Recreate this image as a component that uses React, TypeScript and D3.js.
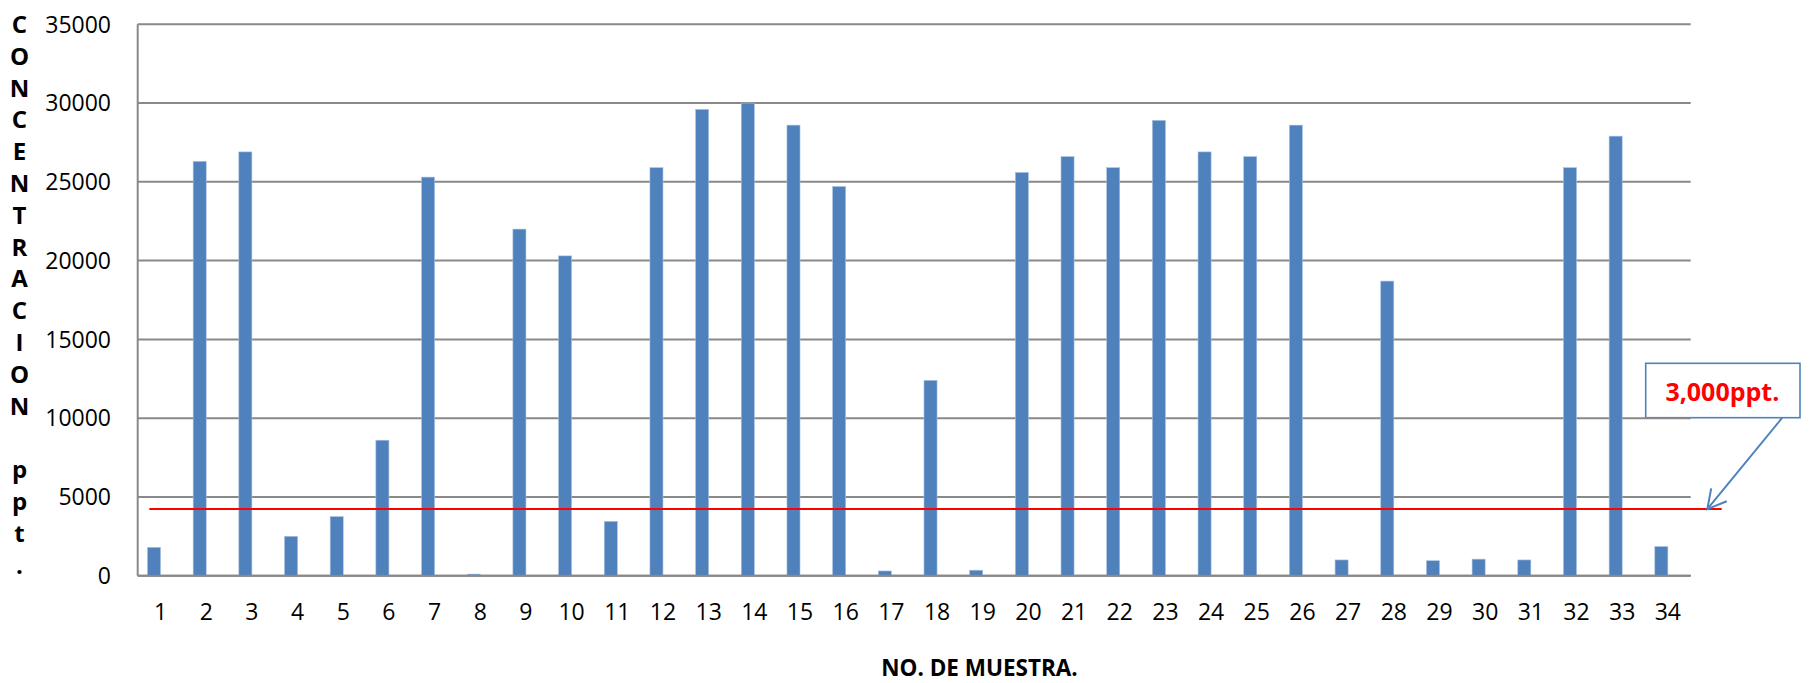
import React from "react";
import * as d3 from "d3";

// Sample numbers along the x axis
const muestras: string[] = Array.from({ length: 34 }, (_, i) => String(i + 1));

// Concentration per sample (ppt)
const concentracion: number[] = [
  1800, 26300, 26900, 2500, 3750, 8600, 25300, 100, 22000, 20300,
  3450, 25900, 29600, 30000, 28600, 24700, 300, 12400, 350, 25600,
  26600, 25900, 28900, 26900, 26600, 28600, 1000, 18700, 950, 1050,
  1000, 25900, 27900, 1850,
];

// Value-axis ticks
const yTicks: number[] = [0, 5000, 10000, 15000, 20000, 25000, 30000, 35000];

// Series slots per category (second slot is empty, leaving the bar off-centre)
const seriesSlots: string[] = ["concentracion", "vacia"];

// Level of the red reference line
const limitLineLevel = 4230;
const calloutText = "3,000ppt.";

const yTitle = "CONCENTRACION ppt.";
const xTitle = "NO. DE MUESTRA.";

const W = 1810;
const H = 683;
const plot = { left: 137.7, right: 1690.7, top: 24.3, bottom: 575.7 };

const FONT = "'Open Sans', 'Liberation Sans', sans-serif";
const GRID = "#898989";
const BAR = "#4F81BD";

export default function App() {
  const x = d3
    .scaleBand<string>()
    .domain(muestras)
    .range([plot.left, plot.right])
    .paddingInner(0)
    .paddingOuter(0);

  const xs = d3
    .scaleBand<string>()
    .domain(seriesSlots)
    .range([0, x.bandwidth()])
    .paddingInner(0)
    .paddingOuter(0.75);

  const y = d3.scaleLinear().domain([0, 35000]).range([plot.bottom, plot.top]);

  const yLimit = y(limitLineLevel);

  // callout box and pointer
  const box = { x0: 1645.7, x1: 1800, y0: 363.3, y1: 417.7 };
  const pointerStart: [number, number] = [1782.3, box.y1];
  const tip: [number, number] = [1707.3, yLimit];
  const ang = Math.atan2(pointerStart[1] - tip[1], pointerStart[0] - tip[0]);
  const headLen = 21;
  const headSpread = 0.5;
  const h1: [number, number] = [
    tip[0] + headLen * Math.cos(ang - headSpread),
    tip[1] + headLen * Math.sin(ang - headSpread),
  ];
  const h2: [number, number] = [
    tip[0] + headLen * Math.cos(ang + headSpread),
    tip[1] + headLen * Math.sin(ang + headSpread),
  ];

  const titleChars = yTitle.split("");
  const lineStep = 31.8;

  return (
    <svg
      width={W}
      height={H}
      style={{ position: "absolute", left: 0, top: 0, background: "#fff" }}
      fontFamily={FONT}
    >
      <rect x={0} y={0} width={W} height={H} fill="#fff" />

      {/* callout box (drawn under the grid) */}
      <rect
        x={box.x0}
        y={box.y0}
        width={box.x1 - box.x0}
        height={box.y1 - box.y0}
        fill="none"
        stroke={BAR}
        strokeWidth={1.6}
      />
      <text
        x={(box.x0 + box.x1) / 2 - 0.5}
        y={401}
        textAnchor="middle"
        fontWeight="bold"
        fontSize={25}
        fill="#FF0000"
      >
        {calloutText}
      </text>

      {/* gridlines */}
      {yTicks.map((t) => (
        <line
          key={`g${t}`}
          x1={plot.left}
          x2={plot.right}
          y1={y(t)}
          y2={y(t)}
          stroke={GRID}
          strokeWidth={2}
        />
      ))}
      {/* value axis line */}
      <line
        x1={plot.left}
        x2={plot.left}
        y1={plot.top}
        y2={plot.bottom}
        stroke={GRID}
        strokeWidth={2}
      />

      {/* bars */}
      {concentracion.map((v, i) => {
        const bx = (x(muestras[i]) as number) + (xs("concentracion") as number);
        return (
          <rect
            key={`b${i}`}
            x={bx}
            y={y(v)}
            width={xs.bandwidth()}
            height={plot.bottom - y(v)}
            fill={BAR}
            stroke="#a9c1e0"
            strokeWidth={0.6}
          />
        );
      })}

      {/* category axis line */}
      <line
        x1={plot.left}
        x2={plot.right}
        y1={plot.bottom}
        y2={plot.bottom}
        stroke={GRID}
        strokeWidth={2}
      />

      {/* red reference line */}
      <line
        x1={149.3}
        x2={1721.7}
        y1={yLimit}
        y2={yLimit}
        stroke="#FF0000"
        strokeWidth={2}
      />

      {/* pointer with open arrowhead */}
      <line
        x1={pointerStart[0]}
        y1={pointerStart[1]}
        x2={tip[0]}
        y2={tip[1]}
        stroke={BAR}
        strokeWidth={2}
      />
      <polyline
        points={`${h1[0]},${h1[1]} ${tip[0]},${tip[1]} ${h2[0]},${h2[1]}`}
        fill="none"
        stroke={BAR}
        strokeWidth={2}
      />

      {/* value tick labels */}
      {yTicks.map((t) => (
        <text
          key={`yl${t}`}
          x={111}
          y={y(t)}
          dy="0.36em"
          textAnchor="end"
          fontSize={23}
          fill="#000"
        >
          {t}
        </text>
      ))}

      {/* category tick labels */}
      {muestras.map((m) => (
        <text
          key={`xl${m}`}
          x={(x(m) as number) + x.bandwidth() / 2}
          y={620}
          textAnchor="middle"
          fontSize={23}
          fill="#000"
        >
          {m}
        </text>
      ))}

      {/* stacked vertical axis title */}
      {titleChars.map((c, i) => (
        <text
          key={`yt${i}`}
          x={19.5}
          y={33 + i * lineStep}
          textAnchor="middle"
          fontWeight="bold"
          fontSize={24}
          fill="#000"
        >
          {c === " " ? "" : c}
        </text>
      ))}

      {/* category axis title */}
      <text
        x={979.5}
        y={676}
        textAnchor="middle"
        fontWeight="bold"
        fontSize={22.5}
        fill="#000"
      >
        {xTitle}
      </text>
    </svg>
  );
}
